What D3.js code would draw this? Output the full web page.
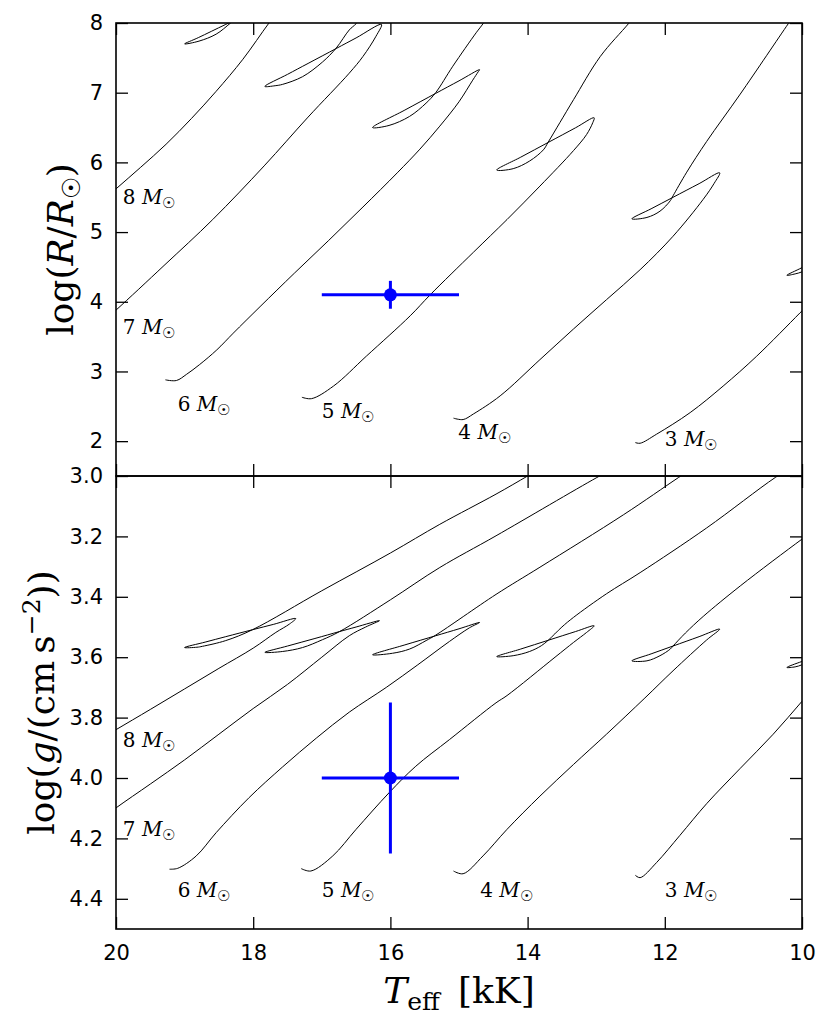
<!DOCTYPE html>
<html>
<head>
<meta charset="utf-8">
<script src="https://cdn.jsdelivr.net/npm/d3@7/dist/d3.min.js"></script>
<style>
  body { margin: 0; background: #fff; }
  .tick text { font-family: "DejaVu Sans", sans-serif; font-size: 21px; fill: #000; }
  .tick line { stroke: #000; stroke-width: 1.3; }
  .frame { fill: none; stroke: #000; stroke-width: 1.6; }
  .track { fill: none; stroke: #000; stroke-width: 1; }
  .mass { font-family: "DejaVu Serif", serif; font-size: 20px; fill: #000; }
  .axis-text { font-family: "DejaVu Serif", serif; font-size: 36px; fill: #000; }
</style>
</head>
<body>
<div id="chart"></div>
<script>
var svgWidth = 830;
var svgHeight = 1029;

var margin = {
  top: 23,
  right: 28,
  bottom: 100,
  left: 116
};

var width = svgWidth - margin.left - margin.right;
var panelHeight = 453;

// tick values
var xTicks = [20, 18, 16, 14, 12, 10];
var rTicks = [2, 3, 4, 5, 6, 7, 8];
var gTicks = [3.0, 3.2, 3.4, 3.6, 3.8, 4.0, 4.2, 4.4];

// track masses (solar masses)
var masses = [3, 4, 5, 6, 7, 8];

// evolutionary tracks, [Teff (kK), log R]
var r3 = [[12.43, 1.98], [12.36, 1.97], [12.12, 2.10], [11.63, 2.41], [11.15, 2.79], [10.66, 3.22], [10.03, 3.84],
  [9.8, 4.07], [9.5, 4.45], [9.3, 4.8], [9.22, 4.9], [9.6, 4.70], [10.0, 4.49], [10.22, 4.38],
  [10.1, 4.40], [10.0, 4.43], [9.9, 4.49], [9.7, 4.75]];
var r4 = [[15.08, 2.33], [14.94, 2.31], [14.79, 2.39], [14.40, 2.65], [13.82, 3.17], [13.33, 3.61], [12.85, 4.03],
  [12.36, 4.46], [11.88, 4.94], [11.44, 5.47], [11.28, 5.70], [11.20, 5.85],
  [11.5, 5.695], [11.88, 5.499], [12.2, 5.334], [12.48, 5.19],
  [12.26, 5.21], [12.07, 5.30], [11.92, 5.45], [11.88, 5.52], [11.68, 5.86], [11.39, 6.30], [10.90, 6.98], [10.20, 7.99], [10.1, 8.13]];
var r5 = [[17.29, 2.63], [17.15, 2.61], [16.83, 2.79], [16.35, 3.22], [15.71, 3.80], [15.42, 4.10], [14.79, 4.71],
  [14.30, 5.18], [13.82, 5.66], [13.33, 6.17], [13.14, 6.40], [13.05, 6.57], [13.03, 6.64],
  [13.3, 6.497], [13.70, 6.286], [14.1, 6.075], [14.45, 5.89],
  [14.21, 5.91], [13.97, 6.02], [13.77, 6.18], [13.70, 6.29], [13.53, 6.57], [13.33, 6.90], [12.94, 7.52], [12.53, 7.99], [12.4, 8.15]];
var r6 = [[19.28, 2.88], [19.12, 2.87], [18.97, 2.96], [18.78, 3.10], [18.53, 3.31], [18.29, 3.55], [17.9, 3.93],
  [17.4, 4.41], [16.9, 4.88], [16.4, 5.36], [15.9, 5.85], [15.57, 6.19], [15.28, 6.52], [15.0, 6.87],
  [14.8, 7.18], [14.72, 7.30], [14.70, 7.33],
  [15.0, 7.17], [15.34, 6.99], [15.8, 6.745], [16.26, 6.50],
  [16.02, 6.53], [15.72, 6.66], [15.48, 6.85], [15.34, 7.0], [15.09, 7.38], [14.75, 7.86], [14.65, 7.99], [14.55, 8.15]];
var r7 = [[20.3, 3.62], [20.0, 3.88], [19.3, 4.52], [18.59, 5.18], [17.84, 5.95], [17.2, 6.65], [16.6, 7.28],
  [16.40, 7.52], [16.21, 7.81], [16.13, 7.98],
  [16.5, 7.786], [16.79, 7.634], [17.2, 7.42], [17.5, 7.263], [17.83, 7.09],
  [17.68, 7.10], [17.57, 7.12], [17.28, 7.23], [16.99, 7.44], [16.79, 7.64], [16.6, 7.90], [16.50, 7.99], [16.4, 8.12]];
var r8 = [[20.3, 5.36], [20.0, 5.62], [19.64, 5.93], [19.27, 6.26], [18.9, 6.63], [18.54, 7.02], [18.15, 7.48],
  [17.77, 8.0], [17.55, 8.28], [17.38, 8.45],
  [17.9, 8.21], [18.4, 7.98], [18.8, 7.79], [19.0, 7.70],
  [18.79, 7.74], [18.54, 7.84], [18.33, 8.0], [18.15, 8.15]];

// evolutionary tracks, [Teff (kK), log g]
var g3 = [[12.43, 4.322], [12.36, 4.330], [12.12, 4.280], [11.78, 4.19], [11.39, 4.085], [10.90, 3.968], [10.42, 3.855],
  [10.0, 3.746], [9.6, 3.64], [9.2, 3.55], [9.0, 3.53], [9.6, 3.584], [10.0, 3.614], [10.22, 3.634],
  [10.1, 3.632], [10.0, 3.625], [9.8, 3.60], [9.6, 3.56]];
var g4 = [[15.08, 4.308], [14.94, 4.317], [14.65, 4.258], [14.30, 4.170], [13.82, 4.060], [13.33, 3.955], [12.85, 3.855],
  [12.29, 3.735], [11.88, 3.645], [11.39, 3.543], [11.20, 3.507],
  [11.5, 3.532], [11.88, 3.563], [12.2, 3.589], [12.48, 3.612],
  [12.26, 3.612], [12.07, 3.595], [11.92, 3.573], [11.88, 3.563], [11.7, 3.52], [11.44, 3.465], [10.90, 3.364], [10.0, 3.209], [9.7, 3.16]];
var g5 = [[17.30, 4.300], [17.16, 4.308], [16.84, 4.258], [16.50, 4.170], [16.02, 4.049], [15.63, 3.961], [15.14, 3.873],
  [14.46, 3.751], [14.30, 3.727], [13.6, 3.60], [13.33, 3.551], [13.14, 3.518], [13.03, 3.496],
  [13.3, 3.515], [13.70, 3.544], [14.1, 3.573], [14.45, 3.598],
  [14.21, 3.595], [13.97, 3.581], [13.80, 3.562], [13.70, 3.544], [13.50, 3.50], [13.33, 3.468], [12.85, 3.39], [12.36, 3.32], [11.39, 3.172], [10.39, 3.005], [10.1, 2.965]];
var g6 = [[19.22, 4.302], [19.10, 4.299], [18.83, 4.258], [18.54, 4.181], [18.06, 4.065], [17.57, 3.963], [17.08, 3.868],
  [16.6, 3.782], [16.06, 3.70], [15.6, 3.625], [15.14, 3.548], [14.85, 3.503], [14.70, 3.485],
  [15.0, 3.506], [15.34, 3.529], [15.8, 3.560], [16.26, 3.592],
  [15.97, 3.587], [15.72, 3.573], [15.48, 3.545], [15.34, 3.527], [14.46, 3.392], [13.82, 3.302], [12.6, 3.128], [11.80, 3.005], [11.5, 2.96]];
var g7 = [[20.3, 4.15], [20.0, 4.099], [19.5, 4.02], [19.0, 3.94], [18.5, 3.855], [18.0, 3.77], [17.5, 3.69],
  [17.0, 3.60], [16.6, 3.529], [16.36, 3.50], [16.16, 3.479],
  [16.5, 3.500], [16.74, 3.515], [17.1, 3.538], [17.5, 3.563], [17.83, 3.584],
  [17.57, 3.581], [17.28, 3.568], [16.99, 3.542], [16.74, 3.515], [16.0, 3.41], [15.28, 3.303], [14.46, 3.198], [12.99, 3.005], [12.7, 2.97]];
var g8 = [[20.3, 3.88], [20.0, 3.840], [19.5, 3.773], [19.0, 3.705], [18.5, 3.637], [18.0, 3.570], [17.67, 3.518],
  [17.47, 3.490], [17.38, 3.472],
  [17.7, 3.491], [18.01, 3.509], [18.4, 3.532], [18.7, 3.550], [19.0, 3.568],
  [18.82, 3.567], [18.74, 3.564], [18.40, 3.545], [18.01, 3.509], [17.0, 3.38], [16.0, 3.255], [15.28, 3.16], [14.46, 3.06], [14.0, 3.0], [13.7, 2.96]];

var tracksR = [r3, r4, r5, r6, r7, r8];
var tracksG = [g3, g4, g5, g6, g7, g8];

// mass label anchors [Teff, value], same order as masses
var labelsR = [[12.0, 1.93], [15.01, 2.03], [17.0, 2.33], [19.10, 2.43], [19.90, 3.54], [19.90, 5.41]];
var labelsG = [[12.0, 4.395], [14.69, 4.395], [17.0, 4.395], [19.10, 4.395], [19.90, 4.193], [19.90, 3.896]];

// observed star
var obsTeff = [16.0];
var obsTeffErr = [1.0];
var obsLogR = [4.1];
var obsLogRErr = [0.2];
var obsLogg = [4.0];
var obsLoggErr = [0.25];

var svg = d3.select("#chart")
  .append("svg")
  .attr("width", svgWidth)
  .attr("height", svgHeight);

var xScale = d3.scaleLinear().domain([20, 10]).range([0, width]);
var yScaleR = d3.scaleLinear().domain([1.5, 8]).range([panelHeight, 0]);
var yScaleG = d3.scaleLinear().domain([3.0, 4.5]).range([0, panelHeight]);

var defs = svg.append("defs");
defs.append("clipPath").attr("id", "clip").append("rect")
  .attr("width", width).attr("height", panelHeight);

var topGroup = svg.append("g")
  .attr("transform", `translate(${margin.left}, ${margin.top})`);
var bottomGroup = svg.append("g")
  .attr("transform", `translate(${margin.left}, ${margin.top + panelHeight})`);

// draws the tracks, labels and the star for one panel
function drawPanel(group, yScale, tracks, labels, obsY, obsYErr) {
  var line = d3.line()
    .x(d => xScale(d[0]))
    .y(d => yScale(d[1]))
    .curve(d3.curveCatmullRom.alpha(0.5));

  var plot = group.append("g").attr("clip-path", "url(#clip)");

  plot.selectAll(".track")
    .data(tracks)
    .enter()
    .append("path")
    .attr("class", "track")
    .attr("d", line);

  // error bars
  plot.append("line")
    .attr("x1", xScale(obsTeff[0] + obsTeffErr[0]))
    .attr("x2", xScale(obsTeff[0] - obsTeffErr[0]))
    .attr("y1", yScale(obsY[0]))
    .attr("y2", yScale(obsY[0]))
    .attr("stroke", "#0000ff")
    .attr("stroke-width", 3);
  plot.append("line")
    .attr("x1", xScale(obsTeff[0]))
    .attr("x2", xScale(obsTeff[0]))
    .attr("y1", yScale(obsY[0] - obsYErr[0]))
    .attr("y2", yScale(obsY[0] + obsYErr[0]))
    .attr("stroke", "#0000ff")
    .attr("stroke-width", 3);
  plot.append("circle")
    .attr("cx", xScale(obsTeff[0]))
    .attr("cy", yScale(obsY[0]))
    .attr("r", 6.5)
    .attr("fill", "#0000ff");

  // mass labels
  var massText = group.selectAll(".mass")
    .data(labels)
    .enter()
    .append("text")
    .attr("class", "mass")
    .attr("x", d => xScale(d[0]))
    .attr("y", d => yScale(d[1]));
  massText.append("tspan").text((d, i) => masses[i] + "\u00a0");
  massText.append("tspan").style("font-style", "italic").text("M");
  massText.append("tspan").attr("font-size", "15px").attr("dy", 4).text("\u2609");
}

drawPanel(topGroup, yScaleR, tracksR, labelsR, obsLogR, obsLogRErr);
drawPanel(bottomGroup, yScaleG, tracksG, labelsG, obsLogg, obsLoggErr);

// axes, ticks pointing inwards
function addAxes(group, yScale, yTicks, yFormat, showX) {
  group.append("g")
    .call(d3.axisLeft(yScale).tickValues(yTicks).tickSize(-12).tickPadding(13).tickFormat(yFormat));
  group.append("g")
    .attr("transform", `translate(${width}, 0)`)
    .call(d3.axisRight(yScale).tickValues(yTicks).tickSize(-12).tickFormat(""));
  group.append("g")
    .call(d3.axisTop(xScale).tickValues(xTicks).tickSize(-12).tickFormat(""));
  group.append("g")
    .attr("transform", `translate(0, ${panelHeight})`)
    .call(d3.axisBottom(xScale).tickValues(xTicks).tickSize(-12).tickPadding(16)
      .tickFormat(showX ? d3.format("d") : ""));
  group.selectAll(".domain").remove();
  group.append("rect")
    .attr("class", "frame")
    .attr("width", width)
    .attr("height", panelHeight);
}

addAxes(topGroup, yScaleR, rTicks, d3.format("d"), false);
addAxes(bottomGroup, yScaleG, gTicks, d3.format(".1f"), true);

// y label, top panel
var yLabelR = svg.append("text")
  .attr("class", "axis-text")
  .attr("text-anchor", "middle")
  .attr("transform", `translate(73, ${margin.top + panelHeight / 2}) rotate(-90)`);
yLabelR.append("tspan").text("log(");
yLabelR.append("tspan").style("font-style", "italic").text("R");
yLabelR.append("tspan").text("/");
yLabelR.append("tspan").style("font-style", "italic").text("R");
yLabelR.append("tspan").attr("font-size", "25px").attr("dy", 7).text("\u2609");
yLabelR.append("tspan").attr("dy", -7).text(")");

// y label, bottom panel
var yLabelG = svg.append("text")
  .attr("class", "axis-text")
  .attr("text-anchor", "middle")
  .attr("transform", `translate(54, ${margin.top + panelHeight * 1.5}) rotate(-90)`);
yLabelG.append("tspan").text("log(");
yLabelG.append("tspan").style("font-style", "italic").text("g");
yLabelG.append("tspan").text("/(cm\u2009s");
yLabelG.append("tspan").attr("font-size", "25px").attr("dy", -14).text("\u22122");
yLabelG.append("tspan").attr("dy", 14).text("))");

// x label
var xLabel = svg.append("text")
  .attr("class", "axis-text")
  .attr("text-anchor", "middle")
  .attr("x", margin.left + width / 2)
  .attr("y", 1003);
xLabel.append("tspan").style("font-style", "italic").text("T");
xLabel.append("tspan").attr("font-size", "25px").attr("dy", 7).text("eff");
xLabel.append("tspan").attr("dy", -7).text("\u2002[kK]");
</script>
</body>
</html>
